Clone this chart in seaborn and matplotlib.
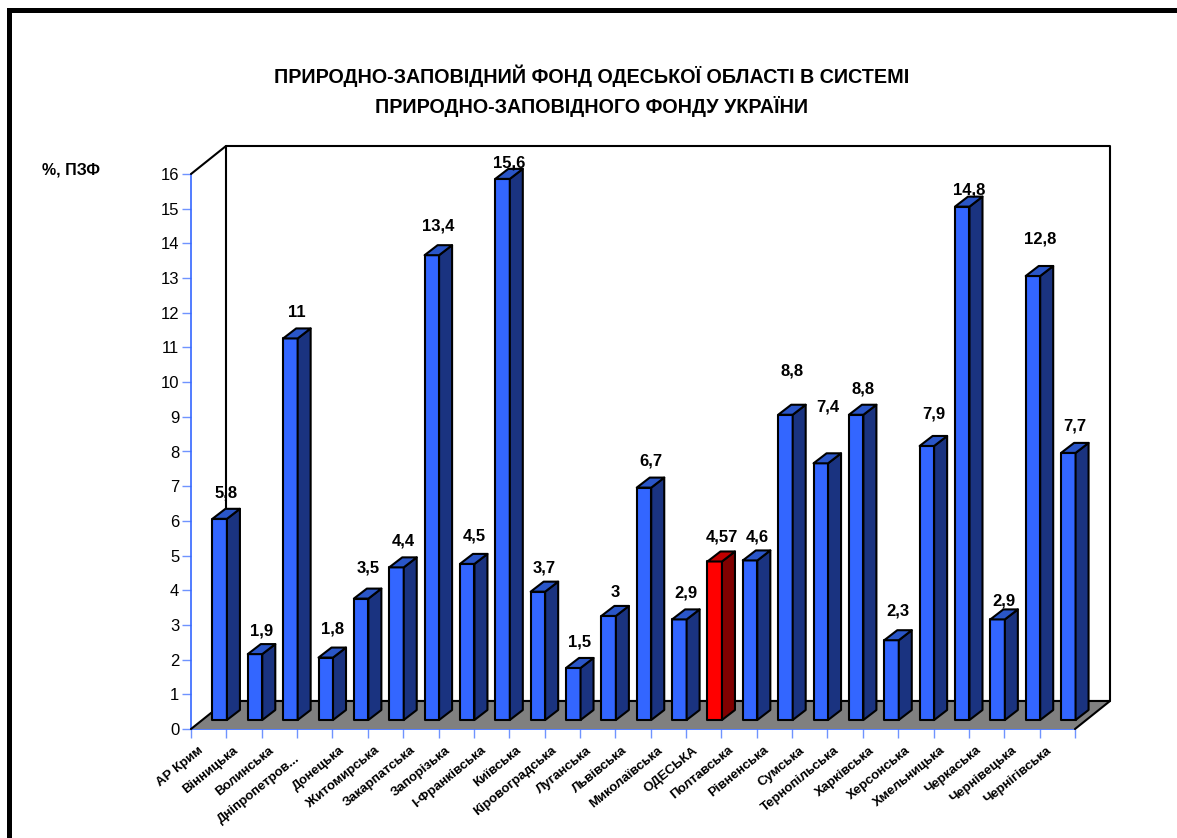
import numpy as np
import pandas as pd
import matplotlib
matplotlib.use('Agg')
import matplotlib.pyplot as plt
from matplotlib.patches import Polygon, Rectangle
from matplotlib.transforms import IdentityTransform, ScaledTranslation
import seaborn as sns

regions = ['АР Крим', 'Вінницька', 'Волинська', 'Дніпропетров...', 'Донецька', 'Житомирська',
           'Закарпатська', 'Запорізька', 'І-Франківська', 'Київська', 'Кіровоградська', 'Луганська',
           'Львівська', 'Миколаївська', 'ОДЕСЬКА', 'Полтавська', 'Рівненська', 'Сумська',
           'Тернопільська', 'Харківська', 'Херсонська', 'Хмельницька', 'Черкаська', 'Чернівецька',
           'Чернігівська']
values = [5.8, 1.9, 11, 1.8, 3.5, 4.4, 13.4, 4.5, 15.6, 3.7, 1.5, 3, 6.7, 2.9, 4.57, 4.6,
          8.8, 7.4, 8.8, 2.3, 7.9, 14.8, 2.9, 12.8, 7.7]
highlight = 'ОДЕСЬКА'
title = 'ПРИРОДНО-ЗАПОВІДНИЙ ФОНД ОДЕСЬКОЇ ОБЛАСТІ В СИСТЕМІ\nПРИРОДНО-ЗАПОВІДНОГО ФОНДУ УКРАЇНИ'
y_title = '%, ПЗФ'

# the value labels sit unevenly above the bars in the original, gap in pixels
label_gaps = [16, 13, 16, 19, 21, 16, 19, 18, 6, 14, 16, 13, 17, 16, 14, 13, 34, 46, 16, 19, 22, 7, 8, 27, 17]

W, H = 1177, 838
BLUE, BLUE_TOP, BLUE_SIDE = '#3366ff', '#2a56c8', '#1a3380'
RED, RED_TOP, RED_SIDE = '#ff0000', '#c00000', '#800000'
DEPTH = (35, 28)      # wall depth, pixels
BAR_SHIFT = (11, 9)   # bar front face offset from the front plane
BAR_DEPTH = (13, 10)

sns.set_theme(style='white')
plt.rcParams['font.family'] = ['Liberation Sans', 'DejaVu Sans']
plt.rcParams['text.color'] = 'black'

df = pd.DataFrame({'region': regions, 'value': values})

fig = plt.figure(figsize=(W / 100, H / 100), dpi=100)
# front plane of the chart box
left, right, top, bottom = 191, 1075, 174, 729
ax = fig.add_axes([left / W, 1 - bottom / H, (right - left) / W, (bottom - top) / H])
ax.patch.set_alpha(0)

sns.barplot(data=df, x='region', y='value', width=0.41, color=BLUE, saturation=1, ax=ax,
            edgecolor='black', linewidth=1.5)
ax.set_xlim(-0.5, len(regions) - 0.5)
ax.set_ylim(0, 16)
ax.set_xlabel('')
ax.set_ylabel('')

px = IdentityTransform()


def to_px(x, y):
    p = ax.transData.transform((x, y))
    return p[0], p[1]


def poly(points, fc, ec='black', lw=1.5, z=3):
    fig.add_artist(Polygon(points, closed=True, fc=fc, ec=ec, lw=lw, transform=px, zorder=z, joinstyle='round'))


# back wall and floor, built from the axes corners
x0, y0 = to_px(-0.5, 0)
x1, y1 = to_px(len(regions) - 0.5, 16)
dx, dy = DEPTH
poly([(x0 + dx, y0 + dy), (x1 + dx, y0 + dy), (x1 + dx, y1 + dy), (x0 + dx, y1 + dy)], 'white', z=0.5)
poly([(x0, y0), (x0 + dx, y0 + dy), (x1 + dx, y0 + dy), (x1, y0)], '#808080', ec='none', lw=0, z=0.6)
fig.add_artist(plt.Line2D([x0, x0 + dx, x1 + dx, x1], [y0, y0 + dy, y0 + dy, y0], color='black', lw=1.5,
                          transform=px, zorder=0.7))
fig.add_artist(plt.Line2D([x0, x0 + dx], [y1, y1 + dy], color='black', lw=1.5, transform=px, zorder=0.7))

# 3d sides of the bars, moved along with the front faces
sx, sy = BAR_SHIFT
bx, by = BAR_DEPTH
for patch, region, value, gap in zip(ax.patches, regions, values, label_gaps):
    face = RED if region == highlight else BLUE
    tone = RED_TOP if region == highlight else BLUE_TOP
    side = RED_SIDE if region == highlight else BLUE_SIDE
    xa, ya = to_px(patch.get_x(), 0)
    xb, yb = to_px(patch.get_x() + patch.get_width(), value)
    xa, xb, ya, yb = xa + sx, xb + sx, ya + sy, yb + sy
    patch.set_visible(False)
    poly([(xa, ya), (xb, ya), (xb, yb), (xa, yb)], face, z=4)
    poly([(xb, ya), (xb + bx, ya + by), (xb + bx, yb + by), (xb, yb)], side, z=4)
    poly([(xa, yb), (xb, yb), (xb + bx, yb + by), (xa + bx, yb + by)], tone, z=4)
    fig.text((xb - 0.5) / W, (yb + by + gap) / H, str(value).replace('.', ','), ha='center', va='center',
             fontsize=12, fontweight='bold', color='black', zorder=6)

# axes in blue
sns.despine(ax=ax, top=True, right=True)
for name in ['left', 'bottom']:
    ax.spines[name].set_color(BLUE)
    ax.spines[name].set_linewidth(1.2)
ax.set_yticks(range(0, 17))
ax.tick_params(axis='y', length=6.5, width=1, color='#6f93ff', labelsize=12, labelcolor='black', pad=2, left=True)
ax.set_xticks(np.arange(-0.5, len(regions)), minor=True)
ax.tick_params(axis='x', which='minor', length=6.5, width=1, color='#6f93ff', bottom=True)
ax.tick_params(axis='x', which='major', length=0, pad=11, labelcolor='black')
ax.set_xticks(range(len(regions)))
ax.set_xticklabels(regions, rotation=39, ha='right', rotation_mode='anchor', fontsize=9.5, fontweight='bold')
shift = ScaledTranslation(-11 / 100, 0, fig.dpi_scale_trans)
shift_long = ScaledTranslation(-20 / 100, -8 / 100, fig.dpi_scale_trans)  # the cut-off name hangs lower
for label in ax.get_xticklabels():
    off = shift_long if label.get_text().endswith('...') else shift
    label.set_transform(label.get_transform() + off)

fig.text(592 / W, 1 - 90.5 / H, title, ha='center', va='center', fontsize=14.2, fontweight='bold',
         linespacing=1.53, color='black')
fig.text(71 / W, 1 - 170 / H, y_title, ha='center', va='center', fontsize=11.5, fontweight='bold', color='black')

# black slide frame, only left and top are inside the picture
fig.add_artist(Rectangle((8.5 / W, -0.2), 1.2, 1.2 - 10.5 / H, fc='none', ec='black', lw=3.6,
                         transform=fig.transFigure, zorder=10))

fig.savefig('out.png', dpi=100)
